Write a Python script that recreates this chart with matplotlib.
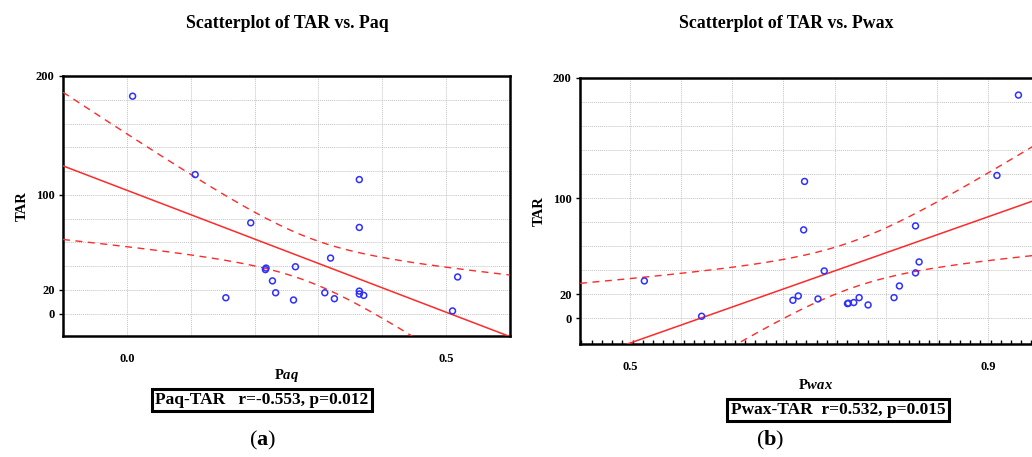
import numpy as np
import matplotlib
matplotlib.use("Agg")
import matplotlib.pyplot as plt
from matplotlib.ticker import MultipleLocator

plt.rcParams['font.family'] = ['Liberation Serif', 'DejaVu Serif']
plt.rcParams['mathtext.fontset'] = 'custom'
plt.rcParams['mathtext.rm'] = 'Liberation Serif'
plt.rcParams['mathtext.bf'] = 'Liberation Serif:bold'
plt.rcParams['mathtext.bfit'] = 'Liberation Serif:italic:bold'

# values
paq = [0.009, 0.107, 0.364, 0.194, 0.364, 0.319, 0.218, 0.217, 0.264, 0.228,
       0.518, 0.155, 0.233, 0.261, 0.310, 0.325, 0.364, 0.364, 0.371, 0.510]
tar_a = [183, 117, 112.8, 76.4, 72.5, 46.7, 38.3, 37.0, 39.4, 27.5,
         30.8, 13.3, 17.5, 11.4, 17.5, 12.5, 18.9, 16.4, 15.3, 2.2]

pwax = [0.934, 0.910, 0.695, 0.694, 0.819, 0.823, 0.717, 0.819, 0.516, 0.801,
        0.688, 0.682, 0.710, 0.743, 0.744, 0.750, 0.756, 0.766, 0.795, 0.580]
tar_b = [185.8, 118.9, 113.9, 73.6, 76.9, 46.9, 39.4, 37.8, 31.1, 26.9,
         18.6, 15.0, 16.1, 12.2, 12.6, 13.1, 17.2, 11.1, 17.2, 1.7]

y_ticks = [0, 20, 100, 200]
T_CRIT = 2.101  # t(0.975, df=18)

BLUE = '#2f2fff'
RED = '#ff2a2a'
GRID = '#c4c4c4'


def fit_band(x, y, xs):
    x = np.asarray(x, float)
    y = np.asarray(y, float)
    n = len(x)
    slope, icpt = np.polyfit(x, y, 1)
    resid = y - (icpt + slope * x)
    s = np.sqrt(np.sum(resid ** 2) / (n - 2))
    sxx = np.sum((x - x.mean()) ** 2)
    yhat = icpt + slope * xs
    hw = T_CRIT * s * np.sqrt(1 / n + (xs - x.mean()) ** 2 / sxx)
    return yhat, yhat - hw, yhat + hw


def draw_panel(ax, x, y, xlim, ylim, xgrid):
    xs = np.linspace(xlim[0], xlim[1], 200)
    yhat, lo, hi = fit_band(x, y, xs)
    ax.plot(xs, yhat, color=RED, lw=1.1, zorder=3)
    ax.plot(xs, lo, color=RED, lw=1.0, ls=(0, (5, 4)), zorder=3)
    ax.plot(xs, hi, color=RED, lw=1.0, ls=(0, (5, 4)), zorder=3)
    ax.scatter(x, y, s=18, facecolors='none', edgecolors=BLUE, linewidths=1.1, zorder=4)

    for gx in xgrid:
        ax.axvline(gx, color=GRID, lw=0.7, ls=(0, (1, 1)), zorder=1)
    for gy in np.arange(0, 200, 20):
        ax.axhline(gy, color=GRID, lw=0.7, ls=(0, (1, 1)), zorder=1)

    ax.set_xlim(xlim)
    ax.set_ylim(ylim)
    ax.set_yticks(y_ticks)
    ax.set_yticklabels([str(v) for v in y_ticks], fontweight='bold', fontsize=9)
    ax.tick_params(axis='both', length=3, width=1, pad=3)
    for sp in ax.spines.values():
        sp.set_linewidth(1.8)
    ax.set_ylabel('TAR', fontweight='bold', fontsize=10.5, labelpad=5)


fig = plt.figure(figsize=(10.32, 4.57), dpi=100)

ax1 = fig.add_axes([63 / 1032, 121 / 457, 447 / 1032, 260 / 457])
draw_panel(ax1, paq, tar_a, (-0.1, 0.6), (-18.9, 197.8), np.arange(0.0, 0.55, 0.1))
ax1.set_xticks([0.0, 0.5])
ax1.set_xticklabels(['0.0', '0.5'], fontweight='bold', fontsize=9)
ax1.tick_params(axis='x', length=0, pad=12)
ax1.set_xlabel(r'$\mathbf{P}\mathbfit{aq}$', fontsize=10.5, labelpad=2)

step_b = 0.4 / 7
ax2 = fig.add_axes([580 / 1032, 113 / 457, 470 / 1032, 266 / 457])
draw_panel(ax2, pwax, tar_b, (0.4441, 0.5 + 420 / 895), (-21.4, 200),
           0.5 + step_b * np.arange(0, 9))
ax2.set_xticks([0.5, 0.9])
ax2.set_xticklabels(['0.5', '0.9'], fontweight='bold', fontsize=9)
ax2.xaxis.set_minor_locator(MultipleLocator(step_b / 5))
ax2.tick_params(axis='x', which='major', length=0, pad=12)
ax2.tick_params(axis='x', which='minor', direction='in', length=3, width=1)
ax2.set_xlabel(r'$\mathbf{P}\mathbfit{wax}$', fontsize=10.5, labelpad=4)

fig.text(287 / 1032, 1 - 24 / 457, 'Scatterplot of TAR vs. Paq', ha='center', va='center',
         fontweight='bold', fontsize=12.8)
fig.text(786 / 1032, 1 - 24 / 457, 'Scatterplot of TAR vs. Pwax', ha='center', va='center',
         fontweight='bold', fontsize=12.8)

box = dict(boxstyle='square,pad=0.2', facecolor='white', edgecolor='black', linewidth=2.2)
fig.text(262 / 1032, 1 - 400 / 457, 'Paq-TAR   r=-0.553, p=0.012', ha='center', va='center',
         fontweight='bold', fontsize=12.5, bbox=box)
fig.text(838 / 1032, 1 - 410 / 457, 'Pwax-TAR  r=0.532, p=0.015', ha='center', va='center',
         fontweight='bold', fontsize=12.5, bbox=box)

fig.text(263 / 1032, 1 - 440 / 457, r'($\mathbf{a}$)', ha='center', va='center', fontsize=16)
fig.text(770 / 1032, 1 - 440 / 457, r'($\mathbf{b}$)', ha='center', va='center', fontsize=16)

fig.savefig('out.png', dpi=100, facecolor='white')
